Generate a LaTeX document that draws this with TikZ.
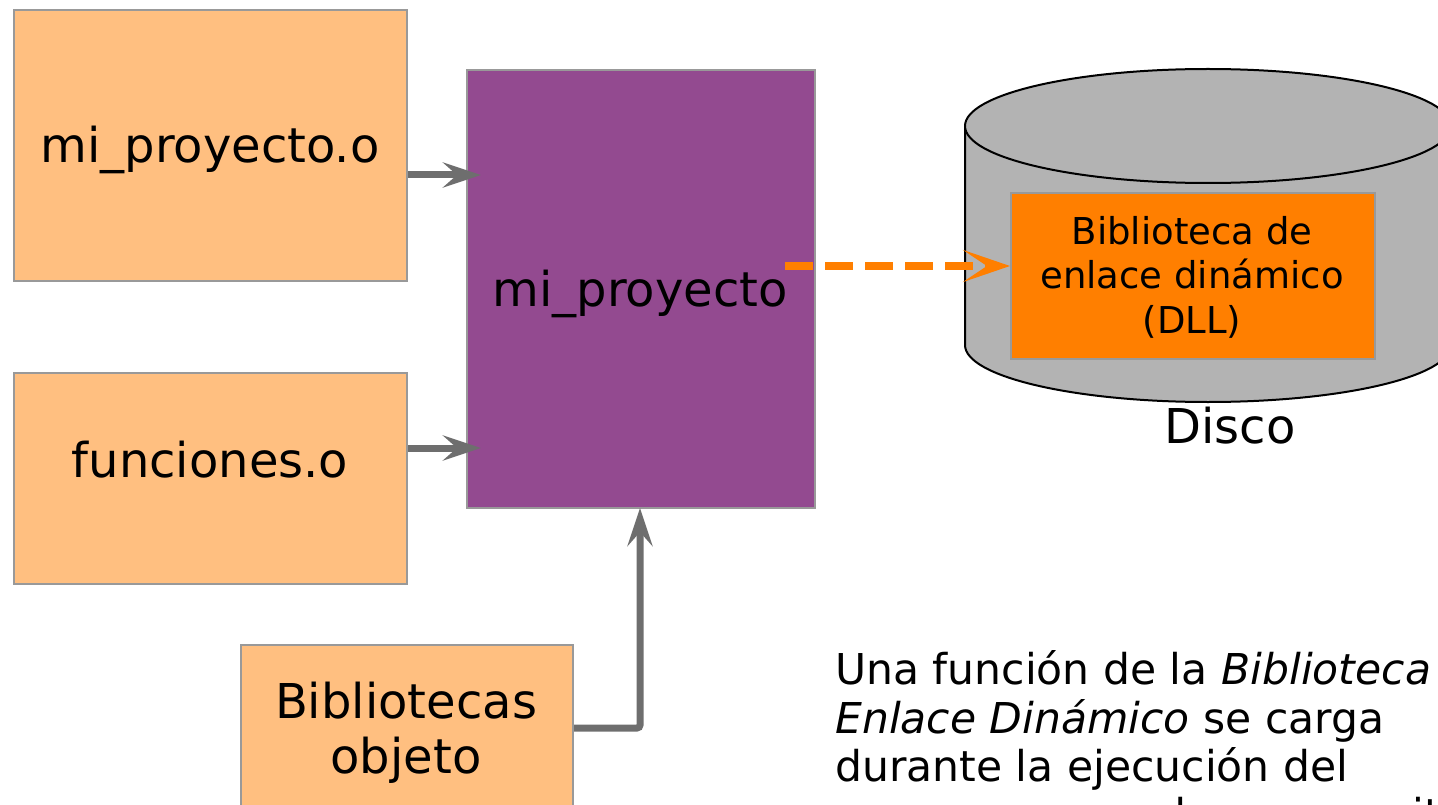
\documentclass[tikz,border=0pt]{standalone}
\usepackage{fontspec}
\setmainfont{DejaVu Sans}
\usetikzlibrary{arrows.meta,calc}
\definecolor{lorange}{HTML}{FFBF80}
\definecolor{dorange}{HTML}{FF7F00}
\definecolor{purp}{HTML}{934A90}
\definecolor{bordgray}{HTML}{999999}
\definecolor{arrgray}{HTML}{6E6E6E}
\definecolor{diskgray}{HTML}{B3B3B3}
\tikzset{
  objbox/.style={draw=bordgray, line width=2pt, fill=lorange, inner sep=0pt, anchor=north west},
  progbox/.style={draw=bordgray, line width=2pt, fill=purp, inner sep=0pt, anchor=north west},
  dllbox/.style={draw=bordgray, line width=2pt, fill=dorange, inner sep=0pt, anchor=north west},
  bigtxt/.style={inner sep=0pt, anchor=base, font=\fontsize{48}{56}\selectfont},
  dlltxt/.style={inner sep=0pt, anchor=base, font=\fontsize{37}{43}\selectfont},
  bodytxt/.style={inner sep=0pt, anchor=base west, font=\fontsize{42.5}{48.5}\selectfont},
  garrow/.style={draw=arrgray, line width=7pt, -{Stealth[length=38pt,width=25pt,inset=14pt]}},
  oarrow/.style={draw=dorange, line width=8pt, dash pattern=on 28pt off 12pt, -{Stealth[length=47pt,width=32pt,inset=24pt]}},
}
\begin{document}
\begin{tikzpicture}[x=1pt,y=-1pt]
\useasboundingbox (0,0) rectangle (1438,805);
\clip (0,0) rectangle (1438,805);
% disk
\filldraw[fill=diskgray, draw=black, line width=2pt]
  (965,126) -- (965,345) arc[start angle=180, end angle=0, x radius=243, y radius=57] -- (1451,126) -- cycle;
\filldraw[fill=diskgray, draw=black, line width=2pt] (1208,126) ellipse [x radius=243, y radius=57];
% boxes
\node[objbox, minimum width=393pt, minimum height=271pt] (A) at (13,9) {};
\node[objbox, minimum width=393pt, minimum height=211pt] (B) at (13,372) {};
\node[objbox, minimum width=332pt, minimum height=200pt] (C) at (240,644) {};
\node[progbox, minimum width=348pt, minimum height=438pt] (P) at (466,69) {};
\node[dllbox, minimum width=364pt, minimum height=166pt] (D) at (1010,192) {};
% texts
\node[bigtxt] (tA) at (210,163) {mi\_proyecto.o};
\node[bigtxt] (tB) at (210,477) {funciones.o};
\node[bigtxt] (tC1) at (406,718) {Bibliotecas};
\node[bigtxt] (tC2) at (406,773) {objeto};
\node[bigtxt] (tP) at (640,306) {mi\_proyecto};
\node[dlltxt] (tD1) at (1192,245) {Biblioteca de};
\node[dlltxt] (tD2) at (1192,288) {enlace dinámico};
\node[dlltxt] (tD3) at (1192,333) {(DLL)};
\node[bigtxt] (disco) at (1230,443) {Disco};
\node[bodytxt] (l1) at (835,684) {Una función de la \textit{Biblioteca}};
\node[bodytxt] (l2) at (835,733) {\textit{Enlace Dinámico} se carga};
\node[bodytxt] (l3) at (835,781) {durante la ejecución del};
\node[bodytxt] (l4) at (835,829) {programa cuando se necesita};
% connectors
\draw[garrow] (A.east |- 0,175) -- ([xshift=15pt]P.west |- 0,175);
\draw[garrow] (B.east |- 0,448) -- ([xshift=15pt]P.west |- 0,448);
\draw[garrow, rounded corners=3pt] (C.east |- 0,728) -- (640,728) -- ([yshift=1pt]P.south -| 640,0);
\draw[oarrow] (785,266) -- (D.west |- 0,266);
\end{tikzpicture}
\end{document}
